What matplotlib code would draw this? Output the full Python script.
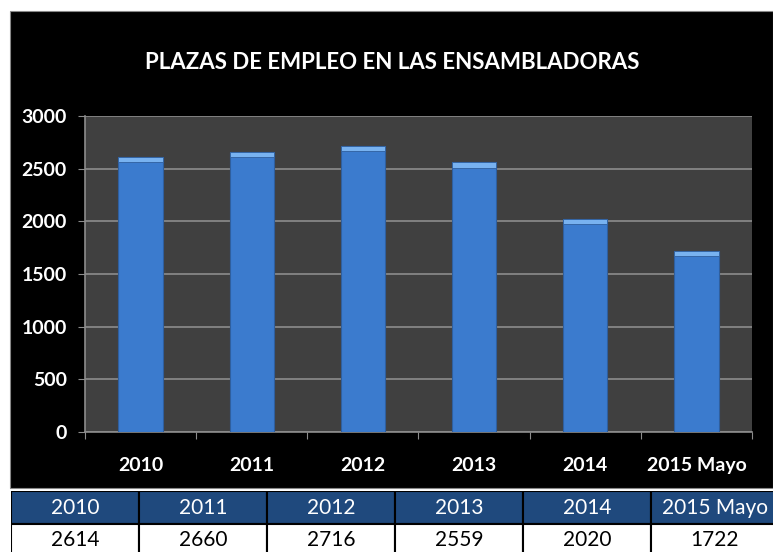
import matplotlib.pyplot as plt
from matplotlib.patches import Rectangle

years = ['2010', '2011', '2012', '2013', '2014', '2015 Mayo']
plazas = [2614, 2660, 2716, 2559, 2020, 1722]
yticks = [0, 500, 1000, 1500, 2000, 2500, 3000]

W, H = 773, 552
fig = plt.figure(figsize=(W / 100, H / 100), dpi=100)
fig.patch.set_facecolor('white')
plt.rcParams['font.family'] = ['Lato', 'DejaVu Sans']

# black chart frame (behind everything)
frame = Rectangle((10 / W, (H - 488) / H), (W - 10) / W, 477 / H,
                  transform=fig.transFigure, facecolor='black',
                  edgecolor='#888888', linewidth=0.8, zorder=-10)
fig.add_artist(frame)

fig.text(392 / W, (H - 62) / H, 'PLAZAS DE EMPLEO EN LAS ENSAMBLADORAS',
         color='white', fontsize=16, fontweight='bold', ha='center', va='center')

# plot area
ax = fig.add_axes([85 / W, (H - 432) / H, 667 / W, 316 / H])
ax.set_zorder(5)
ax.set_facecolor('#404040')
x = range(len(years))
ax.bar(x, plazas, width=0.4, color='#3B7BCE', edgecolor='#2F5F9E', linewidth=0.8, zorder=3)
cap = 50
ax.bar(x, [cap] * len(plazas), bottom=[v - cap for v in plazas], width=0.4,
       color='#78B2F0', edgecolor='#2F5F9E', linewidth=0.6, zorder=4)
ax.set_xlim(-0.5, len(years) - 0.5)
ax.set_ylim(0, 3000)
ax.set_yticks(yticks)
ax.set_yticklabels([str(t) for t in yticks], color='white', fontsize=14, fontweight='bold')
ax.yaxis.grid(True, color='#8C8C8C', linewidth=1.2, zorder=1)
ax.set_axisbelow(True)
ax.set_xticks([i - 0.5 for i in range(len(years) + 1)], minor=False)
ax.set_xticklabels([])
ax.set_xticks(list(x), minor=True)
ax.set_xticklabels(years, minor=True, color='white', fontsize=14, fontweight='bold')
ax.tick_params(axis='x', which='minor', length=0, pad=18)
ax.tick_params(axis='x', which='major', length=5, color='#8C8C8C', direction='out')
ax.tick_params(axis='y', length=5, color='#8C8C8C', pad=8)
for s in ['top', 'right']:
    ax.spines[s].set_visible(False)
for s in ['left', 'bottom']:
    ax.spines[s].set_color('#8C8C8C')
    ax.spines[s].set_linewidth(1.2)

# data table below the chart
tx = fig.add_axes([11 / W, -5 / H, 768 / W, 66 / H])
tx.set_zorder(5)
tx.set_xlim(0, len(years))
tx.set_ylim(0, 2)
tx.axis('off')
for i, (yr, v) in enumerate(zip(years, plazas)):
    tx.add_patch(Rectangle((i, 1), 1, 1, facecolor='#1F497D', edgecolor='black', linewidth=1.5))
    tx.add_patch(Rectangle((i, 0), 1, 1, facecolor='white', edgecolor='black', linewidth=1.5))
    tx.text(i + 0.5, 1.5, yr, color='white', fontsize=15, ha='center', va='center')
    tx.text(i + 0.5, 0.5, str(v), color='black', fontsize=15, ha='center', va='center')

fig.savefig('out.png', dpi=100, facecolor='white')
